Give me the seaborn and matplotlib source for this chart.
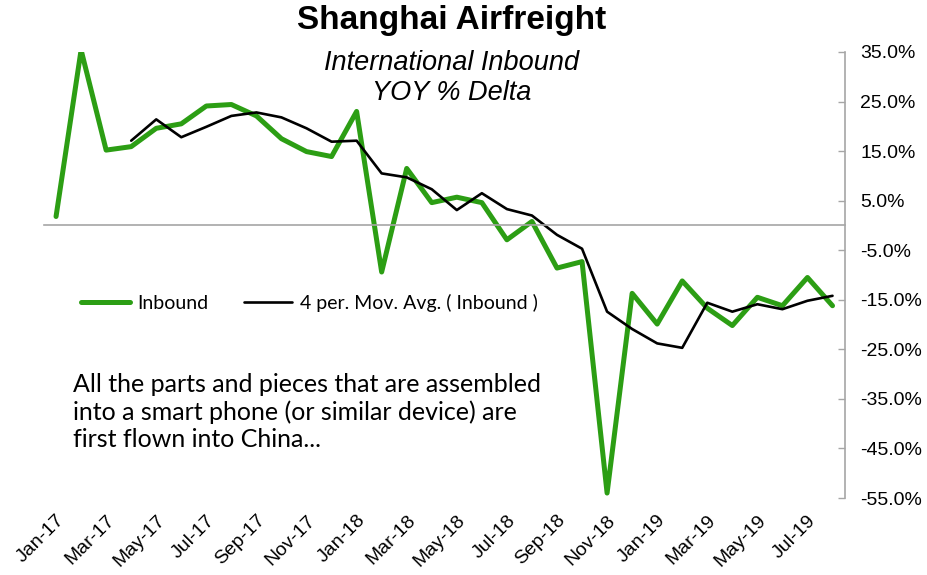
"""Shanghai airfreight, international inbound YOY % delta."""

import matplotlib
import numpy as np
import pandas as pd
import seaborn as sns

matplotlib.use("Agg")
import matplotlib.pyplot as plt
from matplotlib.ticker import FuncFormatter

MONTHS = [
    "Jan-17", "Feb-17", "Mar-17", "Apr-17", "May-17", "Jun-17", "Jul-17", "Aug-17",
    "Sep-17", "Oct-17", "Nov-17", "Dec-17", "Jan-18", "Feb-18", "Mar-18", "Apr-18",
    "May-18", "Jun-18", "Jul-18", "Aug-18", "Sep-18", "Oct-18", "Nov-18", "Dec-18",
    "Jan-19", "Feb-19", "Mar-19", "Apr-19", "May-19", "Jun-19", "Jul-19", "Aug-19",
]
INBOUND = [
    1.8, 35.4, 15.2, 15.9, 19.6, 20.5, 24.1, 24.4,
    22.1, 17.5, 14.9, 13.9, 23.0, -9.4, 11.5, 4.6,
    5.7, 4.6, -2.9, 0.8, -8.6, -7.3, -54.0, -13.7,
    -19.9, -11.2, -16.7, -20.2, -14.5, -16.2, -10.5, -16.2,
]
MOV_AVG = [
    np.nan, np.nan, np.nan, 17.1, 21.4, 17.8, 19.9, 22.1,
    22.8, 21.8, 19.6, 16.9, 17.1, 10.5, 9.7, 7.3,
    3.1, 6.5, 3.3, 2.0, -1.9, -4.7, -17.4, -20.9,
    -23.8, -24.7, -15.6, -17.4, -15.9, -16.9, -15.2, -14.2,
]
Y_TICKS = [-55, -45, -35, -25, -15, -5, 5, 15, 25, 35]

GREEN = "#2c9e14"
GREY = "#a6a6a6"


def main() -> None:
    sns.set_theme(style="white")
    plt.rcParams["font.family"] = ["Liberation Sans", "DejaVu Sans"]
    plt.rcParams["text.color"] = "black"

    data = pd.DataFrame({"idx": np.arange(len(MONTHS)), "inbound": INBOUND, "mov_avg": MOV_AVG})

    fig = plt.figure(figsize=(9.28, 5.75), dpi=100)
    ax = fig.add_axes([0.0469, 0.1339, 0.8637, 0.7757])

    sns.lineplot(data=data, x="idx", y="inbound", color=GREEN, linewidth=3.6,
                 label="Inbound", ax=ax)
    sns.lineplot(data=data.dropna(), x="idx", y="mov_avg", color="black", linewidth=1.9,
                 label="4 per. Mov. Avg. ( Inbound )", ax=ax)

    ax.set_xlim(-0.5, len(MONTHS) - 0.5)
    ax.set_ylim(-55, 35)
    ax.set_xlabel("")
    ax.set_ylabel("")

    # y axis on the right
    ax.yaxis.tick_right()
    ax.set_yticks(Y_TICKS)
    ax.yaxis.set_major_formatter(FuncFormatter(lambda v, _: f"{v:.1f}%"))
    ax.tick_params(axis="y", direction="in", length=5, width=1, color=GREY, pad=11,
                   labelsize=14, labelcolor="black")

    # category axis drawn through zero, ticks between every second month
    ax.spines["bottom"].set_position(("data", 0))
    ax.set_xticks(np.arange(-0.5, len(MONTHS), 2))
    ax.set_xticklabels([])
    ax.tick_params(axis="x", direction="out", length=6, width=1, color=GREY)
    for side in ["top", "left"]:
        ax.spines[side].set_visible(False)
    for side in ["bottom", "right"]:
        ax.spines[side].set_color(GREY)
        ax.spines[side].set_linewidth(1.2)

    # month labels sit at the bottom of the plot area
    low = ax.secondary_xaxis(0)
    low.set_xticks(np.arange(0, len(MONTHS), 2))
    low.set_xticklabels(MONTHS[::2])
    low.spines["bottom"].set_visible(False)
    low.tick_params(axis="x", length=0, pad=10, labelsize=14, labelcolor="black")
    for label in low.get_xticklabels():
        label.set_rotation(45)
        label.set_ha("right")
        label.set_rotation_mode("anchor")

    ax.legend(loc="center left", bbox_to_anchor=(0.025, 0.437), ncol=2, frameon=False,
              handlelength=2.5, handletextpad=0.4, columnspacing=1.8,
              prop={"family": "Lato", "size": 14})

    fig.text(0.487, 0.9635, "Shanghai Airfreight", ha="center", va="center",
             fontsize=24, fontweight="bold")
    fig.text(0.487, 0.891, "International Inbound", ha="center", va="center",
             fontsize=19.5, fontstyle="italic")
    fig.text(0.487, 0.839, "YOY % Delta", ha="center", va="center",
             fontsize=19.5, fontstyle="italic")
    fig.text(0.079, 0.2835,
             "All the parts and pieces that are assembled\n"
             "into a smart phone (or similar device) are\n"
             "first flown into China...",
             ha="left", va="center", fontsize=18, family="Lato", linespacing=1.2)

    fig.savefig("out.png", dpi=100)
    plt.close(fig)


if __name__ == "__main__":
    main()
